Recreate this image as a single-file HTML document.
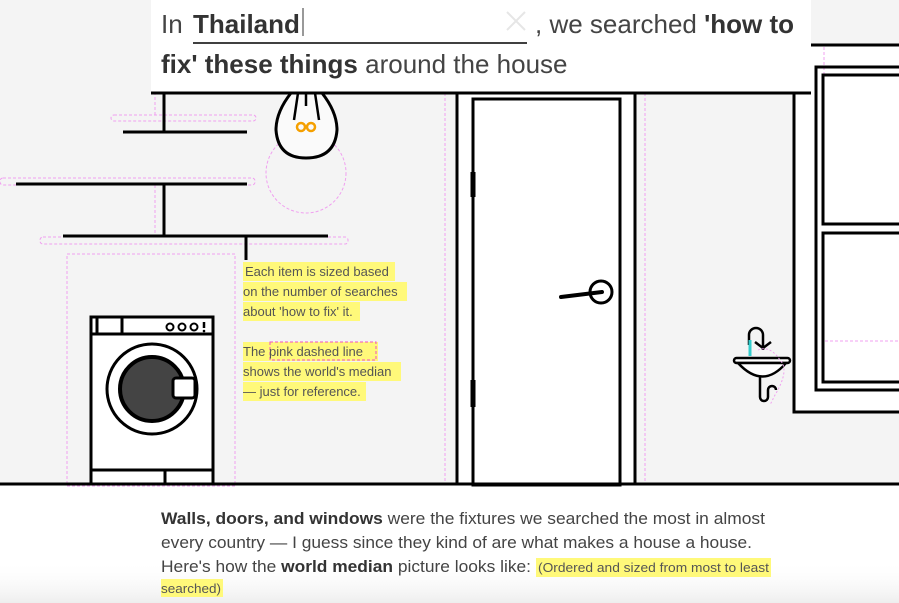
<!DOCTYPE html>
<html><head><meta charset="utf-8"><style>
html,body{margin:0;padding:0;width:899px;height:603px;overflow:hidden;background:#fff;font-family:"Liberation Sans",sans-serif}
</style></head><body>
<svg width="899" height="603" viewBox="0 0 899 603" xmlns="http://www.w3.org/2000/svg" style="position:absolute;left:0;top:0">
<defs><linearGradient id="fade" x1="0" y1="0" x2="0" y2="1"><stop offset="0" stop-color="#fff" stop-opacity="0"/><stop offset="1" stop-color="#eee"/></linearGradient></defs>
<rect x="0" y="0" width="899" height="485" fill="#f4f4f4"/>
<rect x="0" y="560" width="899" height="43" fill="url(#fade)"/>
<rect x="794" y="45" width="105" height="367" fill="#fff"/>
<line x1="811" y1="45" x2="899" y2="45" stroke="#000" stroke-width="3"/>
<line x1="824" y1="47" x2="824" y2="92" stroke="#f0a0f0" stroke-dasharray="3,2"/>
<!-- door -->
<rect x="457" y="93" width="178" height="391" fill="#fff"/>
<line x1="457" y1="93" x2="457" y2="484" stroke="#000" stroke-width="3"/>
<line x1="635" y1="93" x2="635" y2="484" stroke="#000" stroke-width="3"/>
<rect x="473" y="99" width="147" height="386" fill="#fff" stroke="#000" stroke-width="3"/>
<line x1="473" y1="172" x2="473" y2="197" stroke="#000" stroke-width="5"/>
<line x1="473" y1="380" x2="473" y2="407" stroke="#000" stroke-width="5"/>
<circle cx="601" cy="292" r="11" fill="#fff" stroke="#000" stroke-width="3"/>
<line x1="561" y1="297" x2="602" y2="292" stroke="#000" stroke-width="4" stroke-linecap="round"/>
<line x1="645" y1="93" x2="645" y2="484" stroke="#f0a0f0" stroke-dasharray="3,2"/>
<line x1="445" y1="93" x2="445" y2="484" stroke="#f0a0f0" stroke-dasharray="3,2"/>
<!-- window -->
<polyline points="794,93 794,412 899,412" fill="none" stroke="#000" stroke-width="3"/>
<polyline points="899,67 816,67 816,390 899,390" fill="none" stroke="#000" stroke-width="3"/>
<polyline points="899,75 823,75 823,224 899,224" fill="none" stroke="#000" stroke-width="3"/>
<polyline points="899,233 823,233 823,382 899,382" fill="none" stroke="#000" stroke-width="3"/>
<line x1="825" y1="341" x2="899" y2="341" stroke="#f0a0f0" stroke-dasharray="3,2"/>
<!-- sink -->
<g stroke="#000" stroke-width="2.5" fill="#fff">
<path d="M749,345 V335 a7,7 0 0 1 14,0 V350" fill="none"/>
<line x1="750" y1="340" x2="750" y2="356" stroke="#3cc" stroke-width="3"/>
<path d="M755,342 l8,6 l8,-6" fill="none"/>
<rect x="734" y="358" width="56" height="5" rx="2.5"/>
<path d="M738,363 Q763,390 786,363 Z"/>
<path d="M760,376 V397 a4,4 0 0 0 8,0 V390 a4,4 0 0 1 8,0" fill="none"/>
</g>
<path d="M758,350 Q770,345 780,360 Q790,370 775,395 L770,405" fill="none" stroke="#f0a0f0" stroke-dasharray="2,2"/>
<!-- shelves -->
<g fill="none" stroke="#f0a0f0" stroke-dasharray="3,2">
<rect x="111" y="115" width="145" height="6" rx="3"/>
<polyline points="155,115 155,93"/>
<rect x="0" y="178" width="255" height="7" rx="3"/>
<rect x="40" y="237" width="308" height="7" rx="3"/>
<polyline points="155,185 155,236 162,236"/>
<circle cx="306" cy="173" r="40"/>
<rect x="67" y="254" width="168" height="232"/>
</g>
<g stroke="#000" stroke-width="3">
<line x1="164" y1="93" x2="164" y2="132"/><line x1="123" y1="132" x2="247" y2="132"/>
<line x1="16" y1="184" x2="247" y2="184"/><line x1="164" y1="184" x2="164" y2="236"/>
<line x1="63" y1="236" x2="328" y2="236"/><line x1="246" y1="236" x2="246" y2="260"/>
</g>
<!-- bulb -->
<path d="M291,93 Q276,112 276,130 Q278,158 306,158 Q335,158 337,130 Q337,112 322,93" fill="#fafafa" stroke="#000" stroke-width="3"/>
<path d="M298,93 L294,120 M306,93 V106 M315,93 L319,120" stroke="#000" stroke-width="2.5" fill="none"/>
<g fill="none" stroke="#f5a000" stroke-width="2.5"><circle cx="301" cy="127" r="4"/><circle cx="311" cy="127" r="4"/></g>
<!-- washer -->
<g stroke="#000" stroke-width="3">
<rect x="91" y="317" width="122" height="167" fill="#fff"/>
<line x1="91" y1="334" x2="213" y2="334"/>
<line x1="97" y1="317" x2="97" y2="334"/>
<line x1="122" y1="317" x2="122" y2="334"/>
<line x1="91" y1="470" x2="213" y2="470"/>
<line x1="165" y1="470" x2="165" y2="484"/>
<circle cx="152" cy="389" r="45" fill="#fff"/>
<circle cx="152" cy="389" r="32" fill="#444" stroke-width="4"/>
<rect x="173" y="378" width="22" height="20" rx="3" fill="#fff"/>
</g>
<g fill="none" stroke="#000" stroke-width="2"><circle cx="170" cy="327" r="3.5"/><circle cx="182" cy="327" r="3.5"/><circle cx="194" cy="327" r="3.5"/></g>
<line x1="204" y1="322" x2="204" y2="328" stroke="#000" stroke-width="2.5"/><circle cx="204" cy="331" r="1.3"/>
<line x1="0" y1="484" x2="899" y2="484" stroke="#000" stroke-width="3"/>
<!-- header -->
<rect x="151" y="0" width="660" height="93" fill="#fff"/>
<line x1="151" y1="93" x2="811" y2="93" stroke="#000" stroke-width="3"/>
<line x1="193" y1="43" x2="527" y2="43" stroke="#000" stroke-width="1.5"/>
<line x1="303" y1="8" x2="303" y2="36" stroke="#333" stroke-width="1"/>
<path d="M507,12 L525,30 M525,12 L507,30" stroke="#e6e6e6" stroke-width="2"/>
<g font-size="26" fill="#333">
<text x="161" y="33"><tspan font-weight="300" fill="#444">In </tspan><tspan x="193" font-weight="bold">Thailand</tspan></text>
<text x="535" y="33" fill="#444">, we searched <tspan font-weight="bold" fill="#333">'how to</tspan></text>
<text x="161" y="73"><tspan font-weight="bold">fix' these things</tspan><tspan fill="#444"> around the house</tspan></text>
</g>
<!-- note -->
<g fill="#fff97a">
<rect x="243" y="262" width="152" height="19"/><rect x="243" y="282" width="164" height="19"/><rect x="243" y="302" width="117" height="19"/>
<rect x="243" y="342" width="135" height="19"/><rect x="243" y="362" width="158" height="19"/><rect x="243" y="382" width="123" height="19"/>
</g>
<rect x="270" y="342" width="106" height="18" fill="none" stroke="#f050c0" stroke-dasharray="3,2"/>
<g font-size="13" fill="#555">
<text x="245" y="276">Each item is sized based</text>
<text x="243" y="296">on the number of searches</text>
<text x="243" y="316">about 'how to fix' it.</text>
<text x="243" y="356">The  pink dashed line</text>
<text x="243" y="376">shows the world's median</text>
<text x="243" y="396">— just for reference.</text>
</g>
<!-- bottom text -->
<rect x="536" y="558" width="235" height="19" fill="#fff97a"/>
<rect x="161" y="579" width="62" height="18" fill="#fff97a"/>
<g font-size="17" fill="#444">
<text x="161" y="524" textLength="604" lengthAdjust="spacingAndGlyphs"><tspan font-weight="bold" fill="#333">Walls, doors, and windows</tspan> were the fixtures we searched the most in almost</text>
<text x="161" y="548" textLength="591" lengthAdjust="spacingAndGlyphs">every country — I guess since they kind of are what makes a house a house.</text>
<text x="161" y="572" textLength="370" lengthAdjust="spacingAndGlyphs">Here's how the <tspan font-weight="bold" fill="#333">world median</tspan> picture looks like:</text>
</g>
<g font-size="12.5" fill="#555">
<text x="538" y="572" textLength="231" lengthAdjust="spacingAndGlyphs">(Ordered and sized from most to least</text>
<text x="161" y="593" textLength="60" lengthAdjust="spacingAndGlyphs">searched)</text>
</g>
</svg>
</body></html>
